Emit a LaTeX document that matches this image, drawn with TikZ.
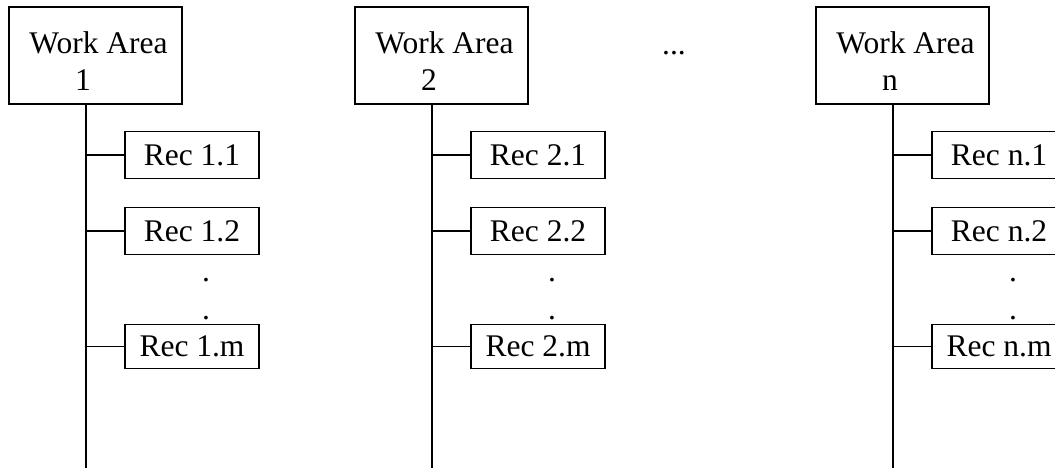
\documentclass[tikz,border=0pt]{standalone}
\usepackage{fontspec}
\setmainfont{Liberation Serif}
\begin{document}
\begin{tikzpicture}[x=1pt,y=-1pt,
  wabox/.style={draw, line width=1.6pt, minimum width=173pt, minimum height=97pt, inner sep=0pt},
  recbox/.style={draw, line width=1.6pt, minimum width=134pt, minimum height=47pt, inner sep=0pt, font=\fontsize{31.5}{37}\selectfont},
  txt/.style={inner sep=0pt, anchor=base, font=\fontsize{31.5}{37}\selectfont},
  conn/.style={line width=1.6pt}]
\useasboundingbox (0,0) rectangle (1055,468);
\fill[white] (0,0) rectangle (1055,468);
\foreach \x/\k in {86/1,432/2,893/n}{
  \node[wabox] (wa\k) at (\x+9.5, 55.5) {};
  \node[txt] (wat\k) at (\x+12.5, 54) {Work Area};
  \node[txt] (wan\k) at (\x-3, 91) {\k};
  \coordinate (bot\k) at (\x, 468);
  \draw[conn] (wa\k.south -| bot\k) -- (bot\k);
  \node[recbox] (ra\k) at (\x+106, 155) {Rec \k.1};
  \node[recbox] (rb\k) at (\x+106, 231) {Rec \k.2};
  \node[recbox, minimum height=44pt] (rm\k) at (\x+106, 346.5) {Rec \k.m};
  \draw[conn] (ra\k.west) -- (ra\k.west -| bot\k);
  \draw[conn] (rb\k.west) -- (rb\k.west -| bot\k);
  \draw[conn] (rm\k.west) -- (rm\k.west -| bot\k);
  \node[txt] (da\k) at (\x+120, 281) {.};
  \node[txt] (db\k) at (\x+120, 319) {.};
}
\node[txt] (ell) at (674, 55) {...};
\end{tikzpicture}
\end{document}
